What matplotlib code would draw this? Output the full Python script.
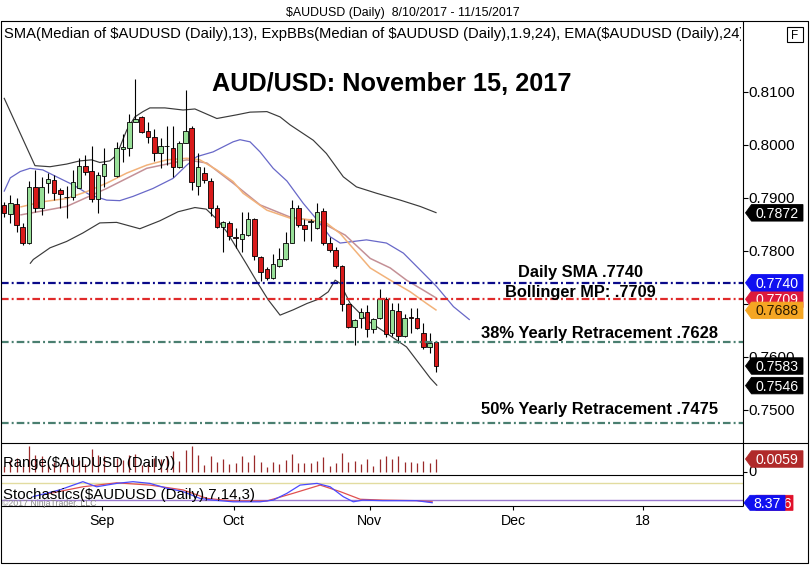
import matplotlib
matplotlib.use('Agg')
import matplotlib.pyplot as plt
from matplotlib import font_manager as fm
from matplotlib.patches import Polygon, Rectangle
from matplotlib.transforms import Bbox, TransformedBbox
import numpy as np

plt.rcParams['lines.scale_dashes'] = False
plt.rcParams['lines.solid_capstyle'] = 'butt'


def has_font(name):
    try:
        fm.findfont(fm.FontProperties(family=name), fallback_to_default=False)
        return True
    except Exception:
        return False


SANS = 'Liberation Sans' if has_font('Liberation Sans') else 'DejaVu Sans'
NARROW = 'Liberation Sans Narrow' if has_font('Liberation Sans Narrow') else SANS
plt.rcParams['font.family'] = [SANS, 'DejaVu Sans']

# ---------------- data ----------------
title_top = '$AUDUSD (Daily)  8/10/2017 - 11/15/2017'
indicator_text = ('SMA(Median of $AUDUSD (Daily),13), ExpBBs(Median of $AUDUSD (Daily),1.9,24), '
                  'EMA($AUDUSD (Daily),24)')
headline = 'AUD/USD: November 15, 2017'
range_label = 'Range($AUDUSD (Daily))'
stoch_label = 'Stochastics($AUDUSD (Daily),7,14,3)'
copyright_text = '\u00a92017 NinjaTrader, LLC'

# daily candles (index 17 = no bar)
opens = [.7886, .7869, .7888, .7846, .7816, .7921, .7881, .7928, .7934, .7915,
         .7902, .7901, .7919, .7961, .7950, .7899, .7942, None, .7942, .7992,
         .7995, .8044, .8053, .8026, .8015, .7984, .7999, .7994, .7958, .8004,
         .8032, .7923, .7948, .7933, .7881, .7845, .7852, .7826, .7823, .7830,
         .7860, .7789, .7766, .7749, .7772, .7785, .7816, .7882, .7849, .7855,
         .7843, .7876, .7816, .7802, .7772, .7700, .7656, .7673, .7684, .7652,
         .7673, .7709, .7645, .7687, .7640, .7675, .7674, .7646, .7619, .7629]
highs = [.7893, .7906, .7900, .7853, .7932, .7953, .7940, .7947, .7943, .7919,
         .7923, .7953, .7975, .7981, .7998, .7950, .7995, None, .8006, .8021,
         .8058, .8124, .8055, .8044, .8031, .8013, .8035, .8035, .8008, .8103,
         .8035, .7984, .7959, .7937, .7887, .7856, .7857, .7844, .7874, .7874,
         .7862, .7790, .7769, .7794, .7805, .7836, .7896, .7887, .7860, .7860,
         .7891, .7881, .7827, .7807, .7773, .7701, .7671, .7692, .7698, .7674,
         .7728, .7713, .7701, .7701, .7682, .7692, .7692, .7664, .7646, .7630]
lows = [.7865, .7853, .7836, .7811, .7814, .7874, .7868, .7909, .7896, .7881,
        .7862, .7896, .7919, .7943, .7893, .7871, .7921, None, .7940, .7968,
        .7979, .8043, .8022, .8003, .7969, .7956, .7962, .7940, .7957, .8003,
        .7915, .7906, .7928, .7866, .7843, .7798, .7821, .7805, .7799, .7829,
        .7783, .7743, .7745, .7747, .7770, .7783, .7815, .7846, .7818, .7818,
        .7841, .7811, .7799, .7767, .7687, .7654, .7623, .7654, .7638, .7646,
        .7671, .7638, .7640, .7626, .7638, .7645, .7652, .7616, .7607, .7572]
closes = [.7871, .7890, .7849, .7815, .7921, .7881, .7921, .7936, .7909, .7908,
          .7901, .7930, .7961, .7950, .7898, .7943, .7964, None, .7994, .7996,
          .8044, .8050, .8025, .8015, .7984, .7998, .7998, .7958, .8004, .8027,
          .7930, .7958, .7934, .7881, .7845, .7855, .7829, .7825, .7832, .7860,
          .7791, .7761, .7749, .7775, .7785, .7816, .7882, .7849, .7842, .7856,
          .7874, .7815, .7802, .7772, .7700, .7656, .7670, .7684, .7652, .7671,
          .7709, .7643, .7689, .7640, .7674, .7674, .7654, .7619, .7626, .7583]

# indicator lines (day index, value)
upper_x = [0, 4.95, 7.35, 10.0, 12.1, 14.0, 15.3, 16.9, 18.0, 19.6, 20.9, 22.2, 23.3, 25.7, 28.6,
           30.5, 34.0, 37.2, 39.3, 42.0, 44.1, 45.7, 49.4, 51.5, 54.2, 56.3, 59.5, 63.3, 66.5, 69.1]
upper_y = [.8089, .7961, .7959, .7964, .7970, .7972, .7967, .7970, .7981, .8028, .8053, .8063, .8070,
           .8070, .8066, .8068, .8050, .8057, .8062, .8063, .8053, .8038, .8009, .7984, .7940, .7921,
           .7909, .7896, .7884, .7872]
lower_x = [4.15, 4.68, 7.35, 10.0, 12.6, 15.3, 18.0, 21.7, 24.9, 27.8, 30.5, 32.3, 34.0, 35.6, 37.2,
           38.8, 40.4, 42.2, 44.1, 46.2, 48.4, 50.0, 51.8, 52.9, 53.7, 55.3, 57.9, 61.1, 64.3, 68.1, 69.2]
lower_y = [.7776, .7784, .7806, .7818, .7834, .7853, .7854, .7842, .7857, .7874, .7882, .7879, .7860,
           .7836, .7805, .7774, .7742, .7708, .7679, .7689, .7701, .7708, .7723, .7745, .7739, .7701,
           .7670, .7645, .7619, .7560, .7546]
sma_x = [0, 1.0, 2.6, 4.15, 6.2, 8.4, 11.0, 13.7, 16.4, 18.5, 20.6, 23.8, 27.0, 29.2, 30.8, 33.4,
         36.6, 37.7, 39.3, 40.9, 43.0, 45.2, 47.8, 50.0, 52.1, 53.7, 57.9, 61.1, 63.8, 66.5, 69.1,
         71.8, 74.4]
sma_y = [.7912, .7938, .7950, .7956, .7953, .7940, .7925, .7906, .7896, .7895, .7903, .7918, .7937,
         .7962, .7978, .7987, .8006, .8010, .8006, .7987, .7956, .7932, .7890, .7859, .7827, .7815,
         .7821, .7815, .7796, .7764, .7733, .7695, .7670]
mid_x = [2.6, 10.0, 16.4, 22.8, 29.2, 32.4, 36.6, 40.9, 45.7, 50.5, 54.5, 58.5, 61.7, 64.3, 67.0, 69.1]
mid_y = [.7868, .7884, .7918, .7956, .7972, .7966, .7928, .7887, .7864, .7855, .7830, .7786, .7768,
         .7745, .7726, .7711]
ema_x = [2.6, 6.2, 10.0, 13.2, 16.4, 19.6, 22.8, 26.0, 29.2, 31.3, 34.0, 36.6, 38.2, 42.0, 45.7,
         48.9, 51.6, 53.7, 58.5, 61.7, 64.9, 67.5, 69.1]
ema_y = [.7883, .7893, .7899, .7912, .7928, .7947, .7962, .7972, .7975, .7972, .7953, .7931, .7909,
         .7877, .7862, .7859, .7852, .7833, .7768, .7745, .7723, .7701, .7688]

# stochastics (day index, value)
stk_x = [4.6, 8.9, 12.6, 14.8, 18.0, 20.6, 23.3, 26.0, 28.6, 31.3, 33.4, 36.6, 40.9, 43.0, 45.2,
         47.3, 50.0, 52.1, 54.2, 55.8, 57.3, 60.5, 63.3, 65.9, 68.5]
stk_v = [30, 54, 83, 65, 77, 83, 77, 60, 48, 24, 18, 12, 12, 18, 42, 71, 77, 65, 30, 12, 18, 16, 16,
         16, 8.4]
std_x = [6.9, 12.6, 18.0, 23.3, 28.6, 32.4, 36.6, 42.0, 46.2, 50.5, 53.7, 56.9, 60.5, 65.9, 68.5]
std_v = [40, 65, 79, 71, 54, 24, 15, 15, 42, 71, 48, 21, 18, 16, 12]
stoch_levels = [80, 20]

# horizontal reference levels
level_vals = [0.7740, 0.7709, 0.7628, 0.7475]
level_labels = ['Daily SMA .7740', 'Bollinger MP: .7709',
                '38% Yearly Retracement .7628', '50% Yearly Retracement .7475']
level_colors = ['#0a0a8a', '#e02a2a', '#4a7f70', '#4a7f70']

# right-axis ticks and value tags (drawn in this order, later on top)
price_ticks = [0.75, 0.76, 0.77, 0.78, 0.79, 0.80, 0.81]
tag_vals = [0.7872, 0.7709, 0.7740, 0.7688, 0.7583, 0.7546]
tag_fc = ['#000000', '#dc1a3c', '#1010f0', '#f5a623', '#000000', '#000000']
tag_tc = ['white', 'white', 'white', '#2a1a00', 'white', 'white']
range_tag = 0.0059
stoch_tag = 8.37
stoch_tag_red = '9.76'

month_labels = ['Sep', 'Oct', 'Nov', 'Dec', '18']
month_pos = [15.6, 36.7, 58.4, 81.3, 102.1]

# ---------------- figure ----------------
W, H = 810, 565
fig = plt.figure(figsize=(W / 100, H / 100), dpi=100)
fig.patch.set_facecolor('white')


def add_px_axes(x0, y0, x1, y1):
    a = fig.add_axes([x0 / W, 1 - y1 / H, (x1 - x0) / W, (y1 - y0) / H])
    a.set_axis_off()
    return a


XL = 1.0
XR = 742.5
i_left = (XL - 4) / 6.26
i_right = (XR - 4) / 6.26

ax = add_px_axes(XL, 21, XR, 442.5)
ax.set_xlim(i_left, i_right)
ax.set_ylim(0.81 - (442.5 - 92) / 5300, 0.81 + (92 - 21) / 5300)

axr = add_px_axes(XL, 442.5, XR, 475)
axr.set_xlim(i_left, i_right)
axr.set_ylim(-(475 - 471.7) / 2150, (471.7 - 442.5) / 2150)

axs = add_px_axes(XL, 475, XR, 506)
axs.set_xlim(i_left, i_right)
axs.set_ylim((505.2 - 506) / 0.2833, (505.2 - 475) / 0.2833)

ov = fig.add_axes([0, 0, 1, 1], zorder=10)
ov.set_xlim(0, W)
ov.set_ylim(H, 0)
ov.set_axis_off()
ov.patch.set_visible(False)

renderer = fig.canvas.get_renderer()

# ---- main panel: bands & averages ----
ax.plot(upper_x, upper_y, color='#3a3a3a', lw=0.85, zorder=2)
ax.plot(lower_x, lower_y, color='#3a3a3a', lw=0.85, zorder=2)
ax.plot(sma_x, sma_y, color='#6868c8', lw=0.9, zorder=2)
ax.plot(mid_x, mid_y, color='#c49096', lw=1.1, zorder=2)
ax.plot(ema_x, ema_y, color='#f2b27a', lw=1.1, zorder=2)

# ---- candles ----
idx = np.arange(len(opens))
O = np.array([np.nan if v is None else v for v in opens], dtype=float)
Hh = np.array([np.nan if v is None else v for v in highs], dtype=float)
L = np.array([np.nan if v is None else v for v in lows], dtype=float)
C = np.array([np.nan if v is None else v for v in closes], dtype=float)
ok = ~np.isnan(O)
up = C >= O
ax.vlines(idx[ok], L[ok], Hh[ok], colors='black', lw=0.8, zorder=3)
body_h = np.maximum(np.abs(C - O), 0.00004)
ax.bar(idx[ok], body_h[ok], bottom=np.minimum(O, C)[ok], width=0.74,
       color=np.where(up[ok], '#98e098', '#d91a1a'), edgecolor='black', linewidth=0.6, zorder=4)

# ---- reference levels ----
for v, c in zip(level_vals, level_colors):
    ax.axhline(v, color=c, lw=1.6, linestyle=(0, (5.5, 2.2, 1.4, 2.2)), zorder=5)

# ---- range panel ----
rng = Hh - L
axr.vlines(idx[ok], 0, rng[ok], colors='#9a2a2a', lw=0.9)

# ---- stochastics ----
for lv, lc in zip(stoch_levels, ['#e2dca0', '#9a7ad0']):
    axs.axhline(lv, color=lc, lw=1.0, zorder=1)
axs.plot(std_x, std_v, color='#e05050', lw=0.9, zorder=2)
axs.plot(stk_x, stk_v, color='#4a4aff', lw=0.9, zorder=3)


# ---------------- overlay helpers ----------------
def ypx(a, v):
    d = a.transData.transform((0, v))
    return ov.transData.inverted().transform(d)[1]


def xpx(a, v):
    d = a.transData.transform((v, 0))
    return ov.transData.inverted().transform(d)[0]


def measure(s, family, weight):
    p = ov.text(0, 0, s, fontsize=10, family=family, weight=weight)
    w = p.get_window_extent(renderer).width
    p.remove()
    return w


def put(x, ycap, s, width=None, size=None, fit_str=None, ha='left', family=None,
        weight='normal', color='black', zorder=6):
    fam = family or SANS
    if width is not None:
        size = 10 * width / measure(fit_str or s, fam, weight)
    t = ov.text(x, ycap + 0.358 * size * 100 / 72, s, fontsize=size, family=[fam, 'DejaVu Sans'],
                weight=weight, color=color, ha=ha, va='baseline', zorder=zorder)
    return t


# frame lines
K = 'black'
ov.plot([XL, 807.5, 807.5, XL, XL], [21, 21, 563, 563, 21], color=K, lw=0.8)
ov.plot([XR, XR], [21, 506], color=K, lw=0.8)
ov.plot([XL, 807.5], [442.5, 442.5], color=K, lw=0.8)
ov.plot([XL, XR], [475, 475], color=K, lw=0.8)
ov.plot([XL, XR], [506, 506], color=K, lw=0.8)

# F box
ov.add_patch(Rectangle((787, 27), 16, 15, fc='white', ec='black', lw=0.8, zorder=6))
put(795, 34.5, 'F', size=8.5, ha='center')

# titles
put(285.6, 11.5, title_top, width=232, family=NARROW)
hdr = put(4, 33, indicator_text, width=716.5,
          fit_str='SMA(Median of $AUDUSD (Daily),13), ExpBBs(Median of $AUDUSD (Daily),1.9,24), EMA($AUDUSD (Daily)',
          family=NARROW)
hdr.set_clip_box(TransformedBbox(Bbox.from_extents(0, 0, XR - 2, H), ov.transData))
hdr.set_clip_on(True)
put(212, 81.7, headline, width=360, weight='bold')

# level annotations
ann_layout = [(518.3, 270.8, 125.0), (505.0, 291.5, 151.7), (480.7, 332.5, 236.6), (480.7, 408.0, 236.6)]
for (x0, yc, w), s in zip(ann_layout, level_labels):
    put(x0, yc, s, width=w, weight='bold')

# right axis ticks
tick_fs = 10 * 46.7 / measure('0.8100', SANS, 'normal')
for v in price_ticks:
    y = ypx(ax, v)
    ov.plot([XR, XR + 5], [y, y], color=K, lw=0.8)
    put(XR + 5.5, y, f'{v:.4f}', size=tick_fs)

# value tags, each new tag layered above the previous one
tag_fs = 10 * 43.3 / measure('0.7872', SANS, 'normal')
_z = [20]


def tag(yc, text, fc, tc, x0=745.5, x1=803.0, h=16.5, fs=None, tx=None, ha='center'):
    z = _z[0]
    _z[0] += 2
    pts = [(x0, yc), (x0 + 6, yc - h / 2), (x1, yc - h / 2), (x1, yc + h / 2), (x0 + 6, yc + h / 2)]
    ov.add_patch(Polygon(pts, closed=True, fc=fc, ec=fc, lw=0.6, zorder=z))
    t = put(tx if tx is not None else (x0 + 6 + x1) / 2, yc, text, size=fs or tag_fs,
            ha=ha, color=tc, zorder=z + 1)
    return t


for v, fc, tc in zip(tag_vals, tag_fc, tag_tc):
    tag(ypx(ax, v), f'{v:.4f}', fc, tc)

# range panel
y0r = ypx(axr, 0)
ov.plot([XR, XR + 4], [y0r, y0r], color=K, lw=0.8)
put(XR + 6, y0r - 1, '0', size=tick_fs * 0.95)
tag(ypx(axr, range_tag), f'{range_tag:.4f}', '#b02a2a', 'white')
put(3, 461.5, range_label, width=172)

# stochastics panel
ys = ypx(axs, stoch_tag)
red_t = tag(ys, stoch_tag_red, '#e0102a', 'white', x0=750, x1=793, h=15, tx=792, ha='right')
tag(ys, f'{stoch_tag:.2f}', '#1010f0', 'white', x0=744, x1=785, h=15)
put(3, 493.5, stoch_label, width=252)
put(2, 502.5, copyright_text, width=95, color='#8a8a8a')

# x axis ticks & labels
xl_fs = 10 * 25 / measure('Sep', SANS, 'normal')
for s, p in zip(month_labels, month_pos):
    x = xpx(axs, p)
    ov.plot([x, x], [506, 510], color=K, lw=0.8)
    put(x, 519.5, s, size=xl_fs, ha='center')

fig.savefig('out.png', dpi=100, facecolor='white')
